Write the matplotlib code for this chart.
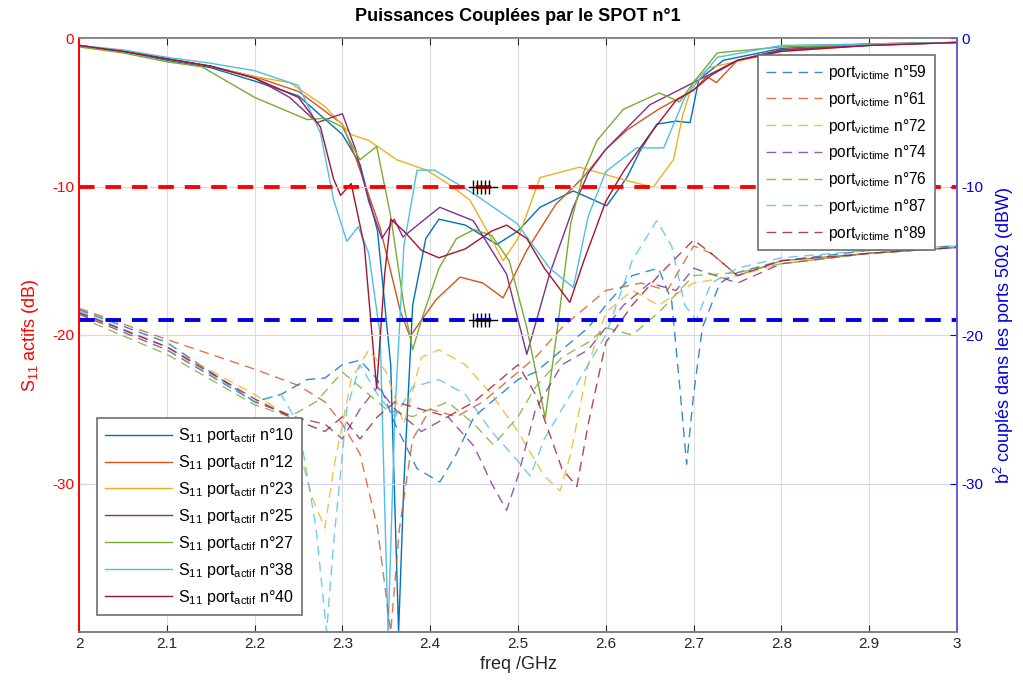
import matplotlib.pyplot as plt

plt.rcParams['font.family'] = ['Liberation Sans', 'DejaVu Sans']
plt.rcParams['mathtext.default'] = 'regular'
plt.rcParams['axes.unicode_minus'] = False

# MATLAB default colour order
colors = ['#0072BD', '#D95319', '#EDB120', '#7E2F8E', '#77AC30', '#4DBEEE', '#A2142F']

# S11 of the active ports (dB, left axis)
f_s10 = [2.0, 2.05, 2.1, 2.15, 2.2, 2.25, 2.3, 2.32, 2.34, 2.355, 2.364, 2.37, 2.38, 2.395, 2.41, 2.44,
         2.476, 2.5, 2.525, 2.563, 2.582, 2.601, 2.624, 2.639, 2.658, 2.68, 2.696, 2.706, 2.734, 2.8, 2.9, 3.0]
s_s10 = [-0.5, -0.9, -1.5, -2.0, -2.9, -3.9, -6.5, -8.5, -13.0, -22.0, -40.0, -30.0, -18.0, -13.5, -12.2, -12.6,
         -13.9, -13.0, -11.4, -10.3, -10.8, -11.3, -9.4, -7.6, -5.8, -5.6, -5.7, -2.8, -1.5, -0.7, -0.4, -0.3]

f_s12 = [2.0, 2.05, 2.1, 2.15, 2.2, 2.25, 2.3, 2.316, 2.343, 2.366, 2.377, 2.39, 2.407, 2.434, 2.46, 2.483,
         2.51, 2.543, 2.574, 2.6, 2.624, 2.66, 2.7, 2.715, 2.726, 2.75, 2.8, 2.9, 3.0]
s_s12 = [-0.5, -0.9, -1.4, -1.9, -2.6, -3.6, -5.8, -8.2, -12.8, -18.4, -20.1, -19.0, -17.6, -16.1, -16.5, -17.5,
         -14.3, -11.2, -9.4, -7.5, -6.2, -4.8, -3.5, -2.6, -3.0, -1.5, -0.8, -0.4, -0.3]

f_s23 = [2.0, 2.05, 2.1, 2.15, 2.2, 2.24, 2.28, 2.31, 2.33, 2.362, 2.396, 2.42, 2.445, 2.465, 2.483, 2.5,
         2.525, 2.57, 2.624, 2.654, 2.677, 2.688, 2.7, 2.718, 2.8, 2.9, 3.0]
s_s23 = [-0.5, -0.9, -1.4, -1.9, -2.6, -3.0, -4.6, -6.5, -6.9, -8.2, -8.9, -9.8, -10.9, -13.0, -15.0, -13.5,
         -9.4, -8.7, -9.6, -10.05, -8.2, -5.1, -2.9, -2.0, -0.9, -0.5, -0.3]

f_s25 = [2.0, 2.05, 2.1, 2.15, 2.2, 2.24, 2.271, 2.3, 2.315, 2.33, 2.345, 2.359, 2.369, 2.396, 2.411, 2.449,
         2.487, 2.51, 2.536, 2.563, 2.58, 2.6, 2.65, 2.7, 2.75, 2.8, 2.9, 3.0]
s_s25 = [-0.5, -0.9, -1.4, -1.9, -2.7, -4.0, -5.7, -5.1, -7.5, -11.0, -13.5, -12.2, -13.4, -12.1, -11.4, -12.3,
         -15.9, -21.3, -15.9, -11.4, -9.1, -7.5, -4.5, -3.0, -1.5, -0.8, -0.5, -0.3]

f_s27 = [2.0, 2.05, 2.1, 2.14, 2.2, 2.26, 2.28, 2.3, 2.32, 2.339, 2.355, 2.37, 2.38, 2.39, 2.41, 2.43,
         2.45, 2.47, 2.49, 2.51, 2.531, 2.545, 2.56, 2.575, 2.59, 2.62, 2.661, 2.684, 2.7, 2.727, 2.8, 3.0]
s_s27 = [-0.6, -1.0, -1.6, -1.94, -4.0, -5.5, -5.4, -6.0, -8.2, -7.3, -12.0, -18.0, -21.0, -19.0, -15.5, -13.5,
         -12.9, -13.3, -15.0, -19.5, -25.6, -19.5, -12.5, -9.0, -6.9, -4.8, -3.7, -4.3, -3.0, -1.0, -0.6, -0.3]

f_s38 = [2.0, 2.05, 2.1, 2.15, 2.2, 2.25, 2.275, 2.29, 2.305, 2.318, 2.33, 2.343, 2.352, 2.36, 2.37, 2.385,
         2.405, 2.45, 2.499, 2.536, 2.563, 2.58, 2.6, 2.635, 2.666, 2.69, 2.727, 2.8, 3.0]
s_s38 = [-0.5, -0.8, -1.3, -1.7, -2.2, -3.2, -6.4, -10.9, -13.7, -12.7, -14.5, -20.0, -40.0, -25.0, -14.0, -8.9,
         -8.9, -10.5, -12.5, -15.5, -16.8, -12.0, -9.0, -7.4, -7.4, -4.0, -1.3, -0.5, -0.3]

f_s40 = [2.0, 2.05, 2.1, 2.15, 2.2, 2.25, 2.275, 2.29, 2.298, 2.31, 2.325, 2.339, 2.348, 2.355, 2.37, 2.39,
         2.41, 2.44, 2.47, 2.487, 2.51, 2.53, 2.559, 2.575, 2.6, 2.62, 2.65, 2.68, 2.7, 2.72, 2.75, 2.8, 2.9, 3.0]
s_s40 = [-0.5, -0.9, -1.4, -1.9, -2.7, -4.0, -6.0, -9.5, -10.6, -9.8, -14.0, -23.6, -16.0, -12.2, -13.0, -14.3,
         -14.8, -14.2, -13.0, -12.6, -13.5, -15.5, -17.8, -15.0, -11.0, -9.0, -6.5, -4.2, -3.5, -2.5, -1.5, -0.9, -0.5, -0.3]

# b^2 coupled into the victim ports (dBW, right axis)
f_b59 = [2.0, 2.1, 2.2, 2.23, 2.26, 2.28, 2.3, 2.32, 2.34, 2.36, 2.385, 2.411, 2.43, 2.45, 2.48, 2.5, 2.52,
         2.55, 2.58, 2.6, 2.63, 2.66, 2.675, 2.685, 2.692, 2.7, 2.71, 2.73, 2.75, 2.8, 2.9, 3.0]
b_b59 = [-18.3, -20.5, -24.5, -24.0, -23.0, -22.9, -22.0, -21.7, -23.0, -26.0, -29.0, -29.9, -28.0, -25.5, -24.0,
         -23.0, -22.5, -21.0, -19.5, -18.0, -16.0, -15.5, -17.7, -24.0, -28.7, -24.0, -19.5, -16.5, -15.8, -15.0, -14.3, -14.0]

f_b61 = [2.0, 2.1, 2.2, 2.25, 2.28, 2.3, 2.32, 2.34, 2.355, 2.365, 2.38, 2.4, 2.43, 2.46, 2.5, 2.52, 2.55,
         2.6, 2.64, 2.67, 2.7, 2.72, 2.75, 2.8, 2.9, 3.0]
b_b61 = [-18.2, -20.3, -22.3, -23.4, -24.5, -26.0, -28.0, -33.0, -40.0, -33.0, -27.0, -25.0, -25.5, -24.5, -22.5,
         -21.5, -19.5, -17.0, -16.5, -17.0, -14.0, -14.5, -16.0, -15.0, -14.5, -14.1]

f_b72 = [2.0, 2.1, 2.2, 2.24, 2.266, 2.28, 2.29, 2.31, 2.33, 2.35, 2.37, 2.39, 2.41, 2.44, 2.47, 2.5, 2.53,
         2.548, 2.56, 2.58, 2.6, 2.63, 2.66, 2.7, 2.75, 2.8, 2.9, 3.0]
b_b72 = [-18.5, -20.8, -24.0, -25.5, -31.0, -33.0, -29.0, -23.0, -21.0, -22.5, -26.0, -21.5, -21.0, -22.0, -24.0,
         -26.5, -29.5, -30.5, -28.0, -22.0, -18.5, -17.0, -18.0, -16.5, -16.0, -15.2, -14.5, -14.1]

f_b74 = [2.0, 2.1, 2.2, 2.25, 2.28, 2.3, 2.32, 2.34, 2.36, 2.39, 2.42, 2.45, 2.47, 2.487, 2.5, 2.52, 2.55,
         2.58, 2.6, 2.62, 2.65, 2.68, 2.7, 2.75, 2.8, 2.9, 3.0]
b_b74 = [-18.6, -21.0, -24.5, -25.6, -26.0, -27.0, -25.0, -23.5, -25.0, -26.5, -25.5, -27.5, -30.0, -31.8, -29.5,
         -25.0, -22.0, -21.0, -19.5, -18.0, -16.5, -17.0, -15.5, -16.5, -15.2, -14.5, -14.1]

f_b76 = [2.0, 2.1, 2.2, 2.24, 2.27, 2.3, 2.33, 2.35, 2.38, 2.42, 2.45, 2.472, 2.5, 2.52, 2.55, 2.58, 2.6,
         2.63, 2.66, 2.7, 2.75, 2.8, 2.9, 3.0]
b_b76 = [-18.8, -21.3, -24.7, -25.5, -24.5, -22.5, -24.0, -25.0, -25.5, -24.5, -26.0, -27.4, -25.5, -23.5, -21.5,
         -20.5, -19.5, -20.0, -18.5, -16.0, -15.8, -15.2, -14.5, -14.1]

f_b87 = [2.0, 2.1, 2.2, 2.23, 2.25, 2.27, 2.282, 2.29, 2.305, 2.32, 2.34, 2.36, 2.38, 2.41, 2.44, 2.47, 2.5,
         2.514, 2.53, 2.56, 2.6, 2.63, 2.658, 2.675, 2.69, 2.703, 2.72, 2.75, 2.8, 2.9, 3.0]
b_b87 = [-18.4, -20.8, -24.5, -24.0, -26.0, -33.0, -40.0, -34.0, -25.0, -22.0, -24.0, -25.5, -23.5, -23.0, -24.0,
         -26.5, -28.5, -29.5, -27.0, -24.0, -20.0, -15.0, -12.3, -14.0, -18.0, -19.0, -16.5, -15.5, -14.8, -14.3, -14.0]

f_b89 = [2.0, 2.1, 2.2, 2.25, 2.28, 2.3, 2.32, 2.34, 2.36, 2.39, 2.42, 2.45, 2.48, 2.5, 2.52, 2.55, 2.567,
         2.58, 2.6, 2.63, 2.66, 2.7, 2.72, 2.75, 2.8, 2.9, 3.0]
b_b89 = [-18.5, -20.8, -24.3, -25.8, -26.5, -25.5, -27.0, -25.5, -24.5, -25.0, -25.5, -24.5, -23.0, -22.0, -24.0,
         -29.0, -30.2, -26.0, -20.5, -18.0, -16.0, -13.6, -14.5, -16.0, -15.0, -14.5, -14.1]

s11_f = [f_s10, f_s12, f_s23, f_s25, f_s27, f_s38, f_s40]
s11_v = [s_s10, s_s12, s_s23, s_s25, s_s27, s_s38, s_s40]
b2_f = [f_b59, f_b61, f_b72, f_b74, f_b76, f_b87, f_b89]
b2_v = [b_b59, b_b61, b_b72, b_b74, b_b76, b_b87, b_b89]

actif_ports = [10, 12, 23, 25, 27, 38, 40]
victime_ports = [59, 61, 72, 74, 76, 87, 89]

s11_limit = -10
b2_limit = -19
mark_line_f = [2.444, 2.476]
mark_f = [2.449, 2.4535, 2.458, 2.4625, 2.467]

xticks = [2, 2.1, 2.2, 2.3, 2.4, 2.5, 2.6, 2.7, 2.8, 2.9, 3]
xticklabels = ['2', '2.1', '2.2', '2.3', '2.4', '2.5', '2.6', '2.7', '2.8', '2.9', '3']
yticks = [0, -10, -20, -30]

fig = plt.figure(figsize=(10.23, 6.91), dpi=100)
ax = fig.add_axes([79 / 1023, 1 - 632 / 691, 878 / 1023, 594 / 691])
ax2 = ax.twinx()

# solid S11 curves
s11_lines = []
for fx, v, c, p in zip(s11_f, s11_v, colors, actif_ports):
    ln, = ax.plot(fx, v, color=c, lw=1.0,
                  label=r'S$_{11}$ port$_{actif}$ n°%d' % p)
    s11_lines.append(ln)

# dashed coupled power curves
b2_lines = []
for fx, v, c, p in zip(b2_f, b2_v, colors, victime_ports):
    ln, = ax2.plot(fx, v, color=c, lw=1.0, alpha=0.8, dashes=(7, 4.5),
                   label=r'port$_{victime}$ n°%d' % p)
    b2_lines.append(ln)

# limit lines (both axes share the same -40..0 range, drawn on top axes so the grid stays under)
ax2.plot([2, 3], [s11_limit, s11_limit], color='red', lw=2.8, dashes=(4, 2.8))
ax2.plot(mark_line_f, [s11_limit, s11_limit], color='black', lw=1.0)
ax2.plot(mark_f, [s11_limit] * len(mark_f), ls='none', marker='|', ms=10, mew=1.0, color='black')
ax2.plot([2, 3], [b2_limit, b2_limit], color='#0000e0', lw=2.8, dashes=(4, 2.8))
ax2.plot(mark_line_f, [b2_limit, b2_limit], color='black', lw=1.0)
ax2.plot(mark_f, [b2_limit] * len(mark_f), ls='none', marker='|', ms=10, mew=1.0, color='black')

ax.set_xlim(2, 3)
ax.set_ylim(-40, 0)
ax2.set_ylim(-40, 0)
ax.set_xticks(xticks)
ax.set_xticklabels(xticklabels)
ax.set_yticks(yticks)
ax2.set_yticks(yticks)

ax.grid(axis='x', color='#dedede', lw=0.8)
ax2.grid(axis='y', color='#d4d4f4', lw=0.8)
ax.set_axisbelow(True)
ax2.set_axisbelow(True)

ax.tick_params(axis='x', direction='in', top=True, length=5, labelsize=11, colors='#262626')
ax.tick_params(axis='y', direction='in', length=5, labelsize=11, colors='red')
ax2.tick_params(axis='y', direction='in', length=5, labelsize=11, colors='#0000e0')

for a in (ax, ax2):
    a.spines['top'].set_color('#808080')
    a.spines['bottom'].set_color('#808080')
    a.spines['left'].set_color('red')
    a.spines['right'].set_color('#6060e0')
    for s in a.spines.values():
        s.set_linewidth(1.2)

ax.set_xlabel('freq /GHz', fontsize=13, color='#262626', labelpad=4)
ax.set_ylabel(r'S$_{11}$ actifs (dB)', fontsize=13, color='red', labelpad=8)
ax2.set_ylabel(r'b$^{2}$ couplés dans les ports 50Ω (dBW)', fontsize=13, color='#0000e0', labelpad=6)
ax.set_title('Puissances Couplées par le SPOT n°1', fontsize=13, fontweight='bold', pad=12)

leg1 = ax2.legend(s11_lines, [l.get_label() for l in s11_lines], loc='lower left',
                  bbox_to_anchor=(0.0205, 0.0286), fontsize=11.5, handlelength=4.2,
                  labelspacing=0.5, fancybox=False, edgecolor='#6e6e6e', framealpha=1,
                  borderpad=0.5, handletextpad=0.4, borderaxespad=0)
leg1.get_frame().set_linewidth(1.2)
ax2.add_artist(leg1)
leg2 = ax2.legend(b2_lines, [l.get_label() for l in b2_lines], loc='upper right',
                  bbox_to_anchor=(0.975, 0.971), fontsize=11.2, handlelength=3.6,
                  labelspacing=0.5, fancybox=False, edgecolor='#6e6e6e', framealpha=1,
                  borderpad=0.5, handletextpad=0.4, borderaxespad=0)
leg2.get_frame().set_linewidth(1.2)

plt.savefig('out.png', dpi=100)
